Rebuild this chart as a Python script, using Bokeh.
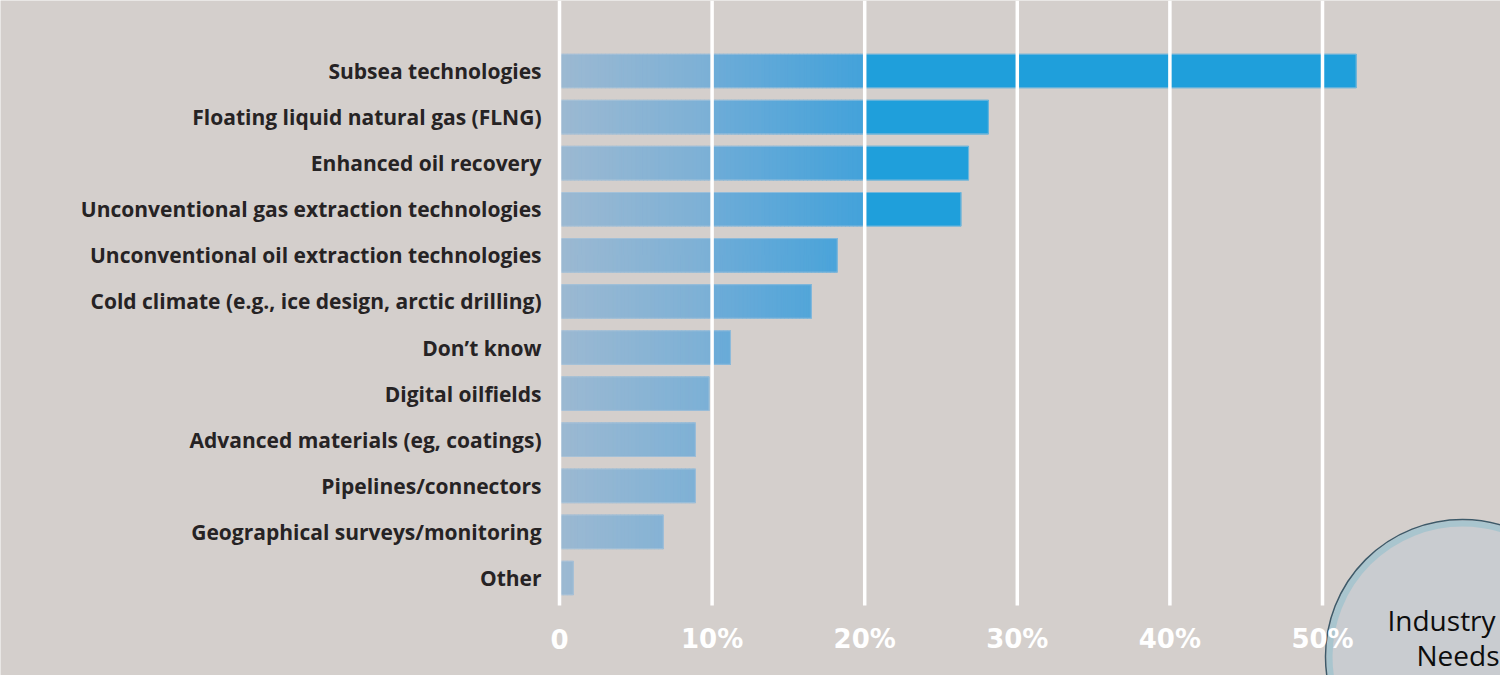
import numpy as np
from bokeh.plotting import figure
from bokeh.models import Range1d, ColumnDataSource
from bokeh.core.properties import value
from bokeh.embed import file_html
from bokeh.resources import INLINE

# ---------------- data ----------------
categories = [
    "Subsea technologies",
    "Floating liquid natural gas (FLNG)",
    "Enhanced oil recovery",
    "Unconventional gas extraction technologies",
    "Unconventional oil extraction technologies",
    "Cold climate (e.g., ice design, arctic drilling)",
    "Don\u2019t know",
    "Digital oilfields",
    "Advanced materials (eg, coatings)",
    "Pipelines/connectors",
    "Geographical surveys/monitoring",
    "Other",
]
shares = [52.2, 28.1, 26.8, 26.3, 18.2, 16.5, 11.2, 9.8, 8.9, 8.9, 6.8, 0.9]
tick_values = [0, 10, 20, 30, 40, 50]
tick_labels = ["0", "10%", "20%", "30%", "40%", "50%"]
badge_lines = ["Industry", "Needs"]

# ---------------- layout (pixels of the canvas) ----------------
W, H = 1500, 675
X0_PX = 559.0          # canvas x of 0 %
PX_PER_PCT = 15.26
Y0_PX = 70.5           # canvas y of first row centre
ROW_PX = 46.09

def xd(px):
    return (px - X0_PX) / PX_PER_PCT

def yd(py):
    return (py - Y0_PX) / ROW_PX

BG = "#d4cfcc"

p = figure(width=W, height=H,
           x_range=Range1d(xd(0), xd(W)),
           y_range=Range1d(yd(H), yd(0)),
           x_axis_type=None, y_axis_type=None,
           min_border=0, toolbar_location=None, output_backend="svg",
           background_fill_color=BG, border_fill_color=BG,
           outline_line_color=None)
p.grid.visible = False

# ---------------- gradient bars ----------------
def hex2rgb(h):
    h = h.lstrip("#")
    return np.array([int(h[i:i + 2], 16) for i in (0, 2, 4)], dtype=float)

SEG = [(0.0, 10.0, hex2rgb("#9cb9d2"), hex2rgb("#7bb0d6")),
       (10.0, 20.0, hex2rgb("#6eacd8"), hex2rgb("#43a2da"))]
SOLID = "#1f9fdb"

def color_at(x):
    for a, b, ca, cb in SEG:
        if a <= x < b:
            t = (x - a) / (b - a)
            c = ca + (cb - ca) * t
            return "#%02x%02x%02x" % tuple(int(round(v)) for v in c)
    return SOLID

STEP = 0.25
lefts, rights, ys, cols = [], [], [], []
for i, v in enumerate(shares):
    x = 0.0
    while x < v - 1e-9:
        r = v if x >= 20.0 else min(x + STEP, v)
        lefts.append(x)
        rights.append(r)
        ys.append(i)
        cols.append(color_at(x + (r - x) / 2) if x < 20 else SOLID)
        x = r

slices = ColumnDataSource(dict(left=lefts, right=rights, y=ys, color=cols))
BAR_H = 0.727
p.hbar(y="y", left="left", right="right", height=BAR_H, source=slices,
       fill_color="color", line_color="color", line_width=1.2)

bars = ColumnDataSource(dict(y=list(range(len(categories))), right=shares))
p.hbar(y="y", left=0, right="right", height=BAR_H, source=bars,
       fill_color=None, line_color="#b4cbdd", line_alpha=0.55, line_width=1)

# ---------------- grid lines (over the bars) ----------------
grid = ColumnDataSource(dict(x=tick_values, y0=[yd(0)] * len(tick_values),
                             y1=[yd(605)] * len(tick_values)))
p.segment(x0="x", x1="x", y0="y0", y1="y1", source=grid,
          line_color="white", line_width=3.5)

# ---------------- category labels ----------------
lab = ColumnDataSource(dict(x=[xd(541)] * len(categories),
                            y=list(range(len(categories))), text=categories))
p.text(x="x", y="y", text="text", source=lab,
       text_align="right", text_baseline="middle",
       text_font=value("Open Sans"), text_font_style="bold",
       text_font_size="21px", text_color="#262324")

# ---------------- badge circle ----------------
cx, cy = xd(1462), yd(656)
p.scatter(x=[cx], y=[cy], marker="circle", size=274,
          fill_color="#c9ccd0", line_color=None)
p.scatter(x=[cx], y=[cy], marker="circle", size=266,
          fill_color=None, line_color="#a3c3ce", line_width=6, line_alpha=0.85)
p.scatter(x=[cx], y=[cy], marker="circle", size=274,
          fill_color=None, line_color="#3d5a69", line_width=1.5)
badge = ColumnDataSource(dict(x=[xd(1387), xd(1416)],
                              y=[yd(619), yd(654)], text=badge_lines))
p.text(x="x", y="y", text="text", source=badge,
       text_align="left", text_baseline="alphabetic",
       text_font=value("Open Sans"), text_font_size="28px", text_color="#0d0d0d")

# ---------------- tick labels ----------------
ticks = ColumnDataSource(dict(x=tick_values, y=[yd(638)] * len(tick_values),
                              text=tick_labels))
p.text(x="x", y="y", text="text", source=ticks,
       text_align="center", text_baseline="middle",
       text_font=value("DejaVu Sans"), text_font_style="bold",
       text_font_size="26px", text_color="white")

open("out.html", "w").write(file_html(p, INLINE))
